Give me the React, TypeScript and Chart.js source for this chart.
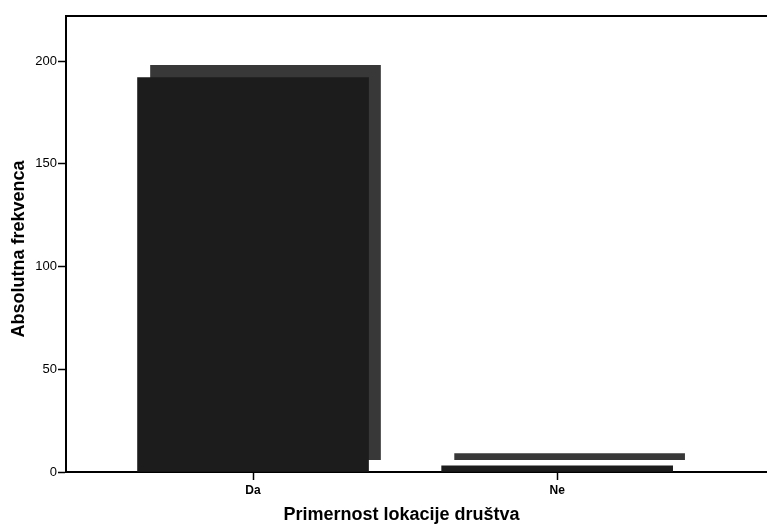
import React, { useEffect, useRef } from "react";
import { Chart, registerables } from "chart.js";

Chart.register(...registerables);

const CATEGORIES = ["Da", "Ne"];
const FREQUENCIES = [192, 3];
const CATEGORY_POS = [1, 2];
const Y_TICKS = [0, 50, 100, 150, 200];
const Y_MAX = 222;
const X_MIN = 0.385;
const X_MAX = 2.69;
const SHADOW_DX = 0.041;
const SHADOW_DY = 6;

const X_TITLE = "Primernost lokacije društva";
const Y_TITLE = "Absolutna frekvenca";

export default function App() {
  const canvasRef = useRef<HTMLCanvasElement | null>(null);

  useEffect(() => {
    document.body.style.margin = "0";
    const canvas = canvasRef.current;
    if (!canvas) return;

    const front = CATEGORIES.map((_, i) => ({ x: CATEGORY_POS[i], y: [0, FREQUENCIES[i]] }));
    const back = CATEGORIES.map((_, i) => ({
      x: CATEGORY_POS[i] + SHADOW_DX,
      y: [SHADOW_DY, FREQUENCIES[i] + SHADOW_DY],
    }));

    const chart = new Chart(canvas, {
      type: "bar",
      data: {
        datasets: [
          {
            label: "front",
            data: front as any,
            backgroundColor: "#1c1c1c",
            borderWidth: 0,
            barThickness: 231,
            grouped: false,
            order: 0,
          } as any,
          {
            label: "back",
            data: back as any,
            backgroundColor: "#383838",
            borderWidth: 0,
            barThickness: 230,
            grouped: false,
            order: 1,
          } as any,
        ],
      },
      options: {
        animation: false,
        responsive: false,
        maintainAspectRatio: false,
        layout: { padding: 0 },
        plugins: {
          legend: { display: false },
          tooltip: { enabled: false },
          title: { display: false },
        },
        scales: {
          x: {
            type: "linear",
            position: "bottom",
            offset: false,
            min: X_MIN,
            max: X_MAX,
            afterBuildTicks: (axis: any) => {
              axis.ticks = CATEGORY_POS.map((v) => ({ value: v }));
            },
            afterFit: (axis: any) => {
              axis.height = 56;
            },
            ticks: {
              autoSkip: false,
              maxRotation: 0,
              padding: 3,
              color: "#000",
              font: { family: "Liberation Sans, Arial, sans-serif", size: 12, weight: "bold" },
              callback: (v: any) => {
                const idx = CATEGORY_POS.indexOf(Number(v));
                return idx >= 0 ? CATEGORIES[idx] : "";
              },
            },
            grid: {
              display: true,
              offset: false,
              drawOnChartArea: false,
              drawTicks: true,
              tickLength: 8,
              tickColor: "#000",
              tickWidth: 1.5,
            },
            border: { display: true, color: "#000", width: 2 },
            title: {
              display: true,
              text: X_TITLE + "\u00a0\u00a0\u00a0\u00a0\u00a0\u00a0",
              color: "#000",
              font: { family: "Liberation Sans, Arial, sans-serif", size: 18, weight: "bold" },
              padding: { top: 0, bottom: 2 },
            },
          },
          xTop: {
            type: "linear",
            position: "top",
            offset: false,
            min: X_MIN,
            max: X_MAX,
            afterFit: (axis: any) => {
              axis.height = 16;
            },
            ticks: { display: false },
            grid: { display: false, drawTicks: false },
            border: { display: true, color: "#000", width: 2 },
          },
          y: {
            type: "linear",
            position: "left",
            min: 0,
            max: Y_MAX,
            afterBuildTicks: (axis: any) => {
              axis.ticks = Y_TICKS.map((v) => ({ value: v }));
            },
            afterFit: (axis: any) => {
              axis.width = 66;
            },
            ticks: {
              padding: 1,
              color: "#000",
              font: { family: "Liberation Sans, Arial, sans-serif", size: 13 },
            },
            grid: {
              display: true,
              drawOnChartArea: false,
              drawTicks: true,
              tickLength: 8,
              tickColor: "#000",
              tickWidth: 1.5,
            },
            border: { display: true, color: "#000", width: 2 },
            title: {
              display: true,
              text: Y_TITLE + "\u00a0\u00a0",
              color: "#000",
              font: { family: "Liberation Sans, Arial, sans-serif", size: 18, weight: "bold" },
              padding: { top: 8, bottom: 0 },
            },
          },
        },
      } as any,
    });

    return () => {
      chart.destroy();
    };
  }, []);

  return (
    <div style={{ width: 767, height: 528, background: "#fff" }}>
      <canvas ref={canvasRef} width={767} height={528} style={{ display: "block" }} />
    </div>
  );
}
